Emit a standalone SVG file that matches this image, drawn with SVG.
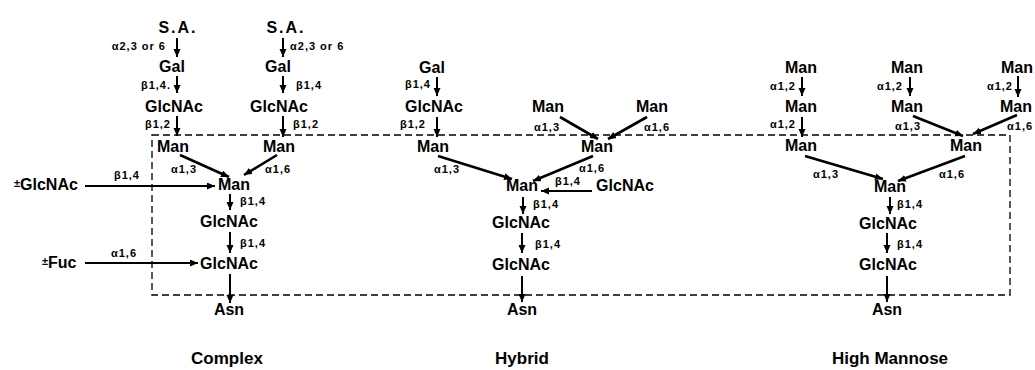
<svg xmlns="http://www.w3.org/2000/svg" width="1035" height="370" viewBox="0 0 1035 370">
  <style>
    text { font-family: "Liberation Sans", Arial, sans-serif; fill: #000; }
    .n { font-size: 16px; font-weight: bold; text-anchor: middle; }
    .s { font-size: 16px; font-weight: bold; text-anchor: start; }
    .t { font-size: 17px; font-weight: bold; text-anchor: middle; }
    .l { font-size: 11px; font-weight: bold; letter-spacing: 1px; }
    .e { text-anchor: end; }
    .m { text-anchor: middle; }
    .v { stroke: #000; stroke-width: 2; fill: none; marker-end: url(#ah); }
    .d { stroke: #000; stroke-width: 2.6; fill: none; marker-end: url(#ah); }
    .box { stroke: #000; stroke-width: 1.3; fill: none; stroke-dasharray: 7 4; }
  </style>
  <defs>
    <marker id="ah" markerUnits="userSpaceOnUse" markerWidth="9" markerHeight="8" refX="8" refY="3.5" orient="auto">
      <path d="M0,0 L8,3.5 L0,7 z" fill="#000"/>
    </marker>
  </defs>
  <rect width="1035" height="370" fill="#fff"/>

  <!-- common core outline -->
  <rect class="box" x="152" y="135" width="858" height="160"/>

  <!-- connectors -->
  <g id="connectors">
    <!-- complex -->
    <line class="v" x1="177" y1="38" x2="177" y2="57"/>
    <line class="v" x1="177" y1="76" x2="177" y2="93"/>
    <line class="v" x1="177" y1="116" x2="177" y2="136"/>
    <line class="v" x1="283" y1="38" x2="283" y2="57"/>
    <line class="v" x1="283" y1="76" x2="283" y2="93"/>
    <line class="v" x1="283" y1="116" x2="283" y2="137"/>
    <line class="d" x1="180" y1="155" x2="229" y2="177"/>
    <line class="d" x1="277" y1="155" x2="244" y2="175"/>
    <line class="v" x1="85" y1="186" x2="215" y2="186"/>
    <line class="v" x1="230" y1="194" x2="230" y2="210"/>
    <line class="v" x1="230" y1="232" x2="230" y2="253"/>
    <line class="v" x1="85" y1="263" x2="198" y2="263" stroke-width="2.6"/>
    <line class="v" x1="230" y1="274" x2="230" y2="303"/>
    <!-- hybrid -->
    <line class="v" x1="437" y1="77" x2="437" y2="96"/>
    <line class="v" x1="437" y1="117" x2="437" y2="137"/>
    <line class="d" x1="560" y1="117" x2="598" y2="139"/>
    <line class="d" x1="647" y1="117" x2="608" y2="139"/>
    <line class="d" x1="438" y1="156" x2="512" y2="179"/>
    <line class="d" x1="593" y1="156" x2="533" y2="181"/>
    <line class="v" x1="592" y1="191" x2="541" y2="191"/>
    <line class="v" x1="523" y1="197" x2="523" y2="214"/>
    <line class="v" x1="522" y1="233" x2="522" y2="253"/>
    <line class="v" x1="522" y1="276" x2="522" y2="302"/>
    <!-- high mannose -->
    <line class="v" x1="802" y1="77" x2="802" y2="96"/>
    <line class="v" x1="802" y1="117" x2="802" y2="137"/>
    <line class="v" x1="910" y1="77" x2="910" y2="96"/>
    <line class="d" x1="913" y1="116" x2="963" y2="136"/>
    <line class="v" x1="1018" y1="76" x2="1018" y2="97"/>
    <line class="d" x1="1017" y1="115" x2="973" y2="134"/>
    <line class="d" x1="805" y1="156" x2="883" y2="179"/>
    <line class="d" x1="965" y1="156" x2="898" y2="181"/>
    <line class="v" x1="890" y1="197" x2="890" y2="214"/>
    <line class="v" x1="887" y1="233" x2="887" y2="253"/>
    <line class="v" x1="887" y1="276" x2="887" y2="302"/>

    <!-- linkage labels -->
    <text class="l e" x="166" y="50">α2,3 or 6</text>
    <text class="l e" x="171" y="89">β1,4.</text>
    <text class="l e" x="171" y="128">β1,2</text>
    <text class="l" x="290" y="50">α2,3 or 6</text>
    <text class="l" x="296" y="89">β1,4</text>
    <text class="l" x="293" y="128">β1,2</text>
    <text class="l m" x="184" y="173">α1,3</text>
    <text class="l" x="265" y="173">α1,6</text>
    <text class="l m" x="127" y="179">β1,4</text>
    <text class="l" x="240" y="205">β1,4</text>
    <text class="l" x="240" y="247">β1,4</text>
    <text class="l m" x="124" y="257">α1,6</text>

    <text class="l e" x="431" y="88">β1,4</text>
    <text class="l e" x="426" y="128">β1,2</text>
    <text class="l m" x="547" y="131">α1,3</text>
    <text class="l m" x="657" y="131">α1,6</text>
    <text class="l m" x="447" y="173">α1,3</text>
    <text class="l m" x="592" y="172">α1,6</text>
    <text class="l m" x="568" y="185">β1,4</text>
    <text class="l" x="533" y="208">β1,4</text>
    <text class="l" x="535" y="248">β1,4</text>

    <text class="l e" x="796" y="90">α1,2</text>
    <text class="l e" x="796" y="128">α1,2</text>
    <text class="l e" x="903" y="90">α1,2</text>
    <text class="l m" x="908" y="130">α1,3</text>
    <text class="l e" x="1013" y="90">α1,2</text>
    <text class="l" x="1007" y="130">α1,6</text>
    <text class="l m" x="826" y="178">α1,3</text>
    <text class="l m" x="952" y="178">α1,6</text>
    <text class="l" x="897" y="208">β1,4</text>
    <text class="l" x="897" y="248">β1,4</text>
  </g>

  <!-- Complex -->
  <g id="complex-sa1"><text class="n" x="178" y="33" letter-spacing="2">S.A.</text></g>
  <g id="complex-gal1"><text class="n" x="172" y="72">Gal</text></g>
  <g id="complex-glcnac1"><text class="n" x="174" y="112">GlcNAc</text></g>
  <g id="complex-man1"><text class="n" x="173" y="152">Man</text></g>
  <g id="complex-sa2"><text class="n" x="286" y="33" letter-spacing="2">S.A.</text></g>
  <g id="complex-gal2"><text class="n" x="278" y="72">Gal</text></g>
  <g id="complex-glcnac2"><text class="n" x="279" y="112">GlcNAc</text></g>
  <g id="complex-man2"><text class="n" x="279" y="152">Man</text></g>
  <g id="complex-man-core"><text class="n" x="234" y="190">Man</text></g>
  <g id="complex-glcnac-core1"><text class="n" x="229" y="227">GlcNAc</text></g>
  <g id="complex-glcnac-core2"><text class="n" x="229" y="269">GlcNAc</text></g>
  <g id="complex-asn"><text class="n" x="229" y="315">Asn</text></g>
  <g id="complex-bisect"><text class="s" x="14" y="190"><tspan font-size="11" dy="-3">±</tspan><tspan dy="3">GlcNAc</tspan></text></g>
  <g id="complex-fuc"><text class="s" x="42" y="268"><tspan font-size="11" dy="-3">±</tspan><tspan dy="3">Fuc</tspan></text></g>
  <g id="title-complex"><text class="t" x="227" y="364">Complex</text></g>

  <!-- Hybrid -->
  <g id="hybrid-gal"><text class="n" x="432" y="73">Gal</text></g>
  <g id="hybrid-glcnac1"><text class="n" x="434" y="112">GlcNAc</text></g>
  <g id="hybrid-man1"><text class="n" x="433" y="152">Man</text></g>
  <g id="hybrid-man-a"><text class="n" x="548" y="112">Man</text></g>
  <g id="hybrid-man-b"><text class="n" x="652" y="112">Man</text></g>
  <g id="hybrid-man2"><text class="n" x="597" y="152">Man</text></g>
  <g id="hybrid-man-core"><text class="n" x="522" y="191">Man</text></g>
  <g id="hybrid-bisect"><text class="n" x="625" y="191">GlcNAc</text></g>
  <g id="hybrid-glcnac-core1"><text class="n" x="521" y="228">GlcNAc</text></g>
  <g id="hybrid-glcnac-core2"><text class="n" x="521" y="270">GlcNAc</text></g>
  <g id="hybrid-asn"><text class="n" x="522" y="315">Asn</text></g>
  <g id="title-hybrid"><text class="t" x="522" y="364">Hybrid</text></g>

  <!-- High mannose -->
  <g id="hm-man-a1"><text class="n" x="801" y="73">Man</text></g>
  <g id="hm-man-a2"><text class="n" x="801" y="112">Man</text></g>
  <g id="hm-man-a3"><text class="n" x="801" y="151">Man</text></g>
  <g id="hm-man-b1"><text class="n" x="907" y="73">Man</text></g>
  <g id="hm-man-b2"><text class="n" x="907" y="112">Man</text></g>
  <g id="hm-man-c1"><text class="n" x="1017" y="73">Man</text></g>
  <g id="hm-man-c2"><text class="n" x="1016" y="112">Man</text></g>
  <g id="hm-man-6arm"><text class="n" x="966" y="151">Man</text></g>
  <g id="hm-man-core"><text class="n" x="890" y="192">Man</text></g>
  <g id="hm-glcnac-core1"><text class="n" x="888" y="229">GlcNAc</text></g>
  <g id="hm-glcnac-core2"><text class="n" x="888" y="270">GlcNAc</text></g>
  <g id="hm-asn"><text class="n" x="887" y="315">Asn</text></g>
  <g id="title-high-mannose"><text class="t" x="890" y="364">High Mannose</text></g>
</svg>
